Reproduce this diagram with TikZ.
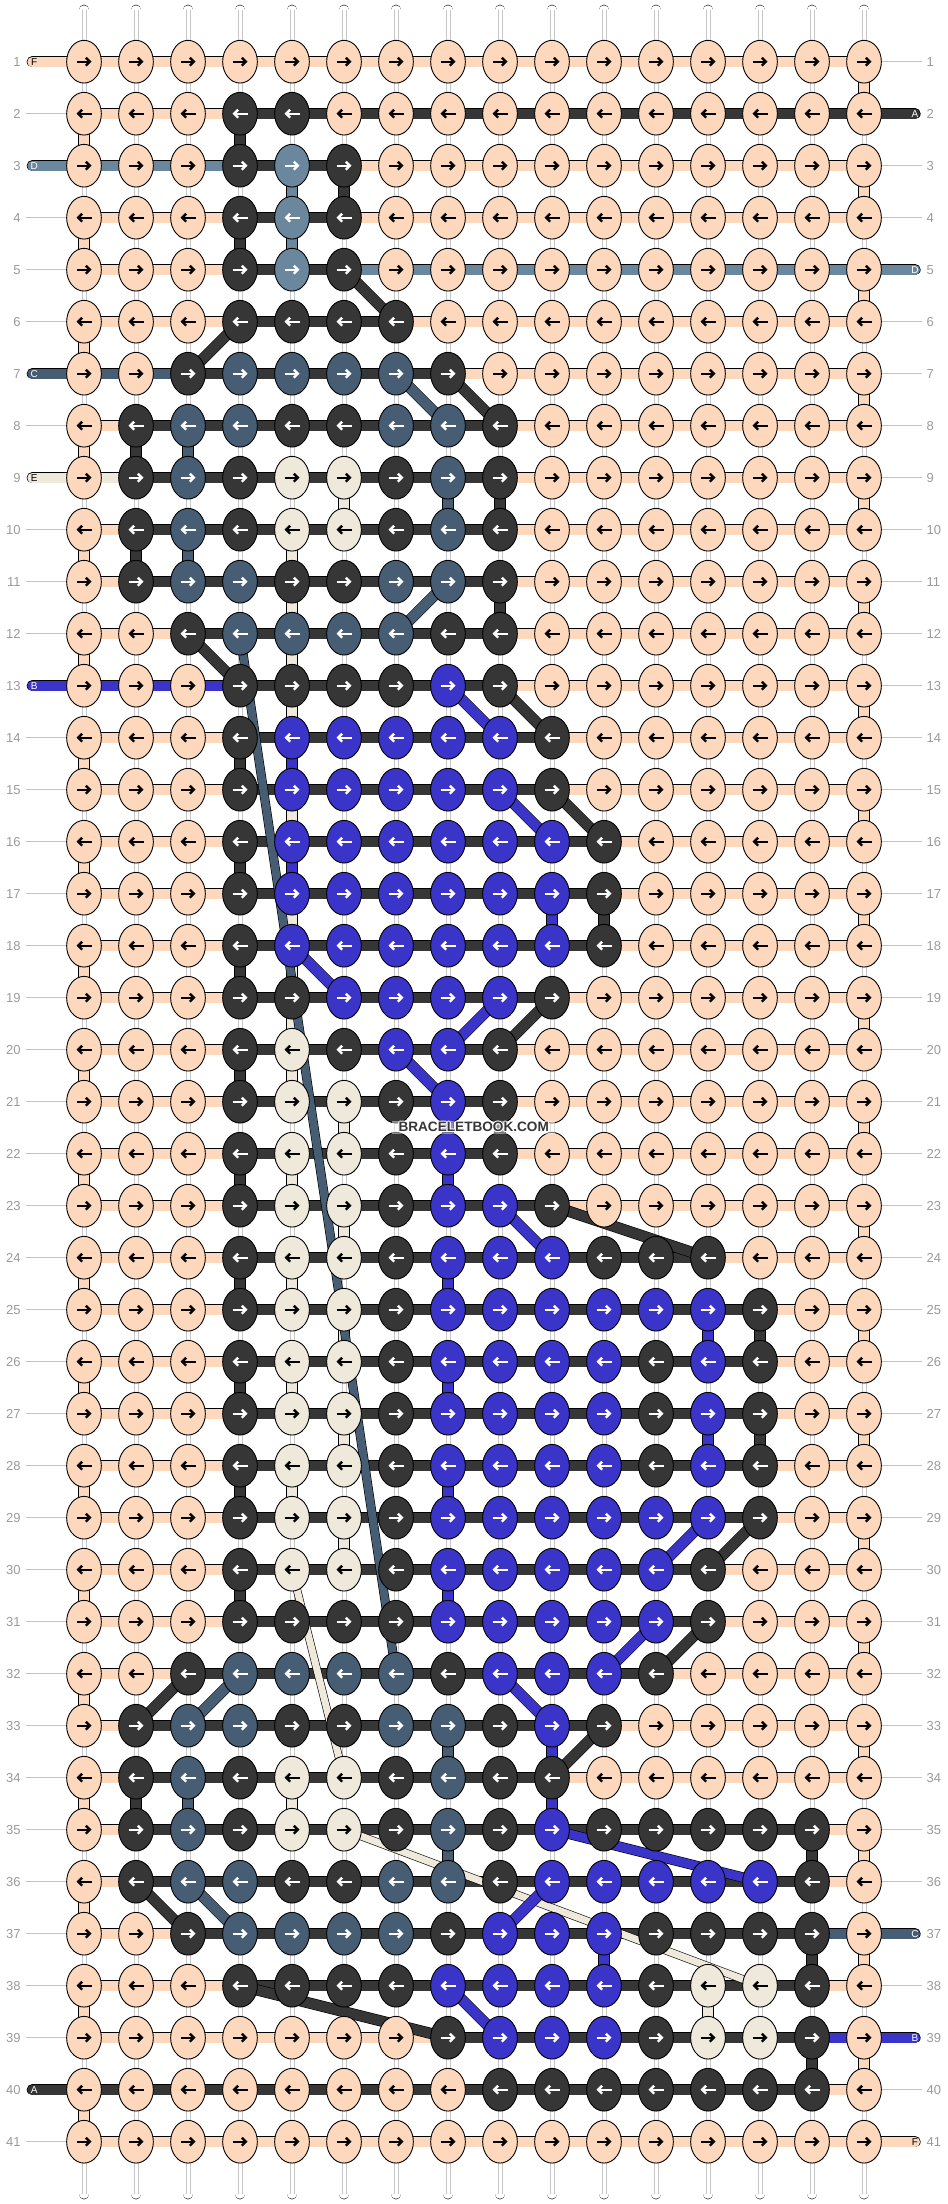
\documentclass[tikz,border=0pt]{standalone}
\usepackage{fontspec}
\setmainfont{Liberation Sans}
\usepackage{xstring}
\usetikzlibrary{shapes.geometric,arrows.meta}

\definecolor{colA}{HTML}{363636}
\definecolor{colB}{HTML}{3A34C8}
\definecolor{colC}{HTML}{465D73}
\definecolor{colD}{HTML}{6B879E}
\definecolor{colE}{HTML}{EFE9DB}
\definecolor{colF}{HTML}{FDD8BC}
\colorlet{txtA}{white}
\colorlet{txtB}{white}
\colorlet{txtC}{white}
\colorlet{txtD}{white}
\colorlet{txtE}{black}
\colorlet{txtF}{black}
\definecolor{rownum}{HTML}{9A9A9A}
\definecolor{rowline}{HTML}{C4C4C4}

\pgfdeclarelayer{strings}
\pgfdeclarelayer{threads}
\pgfdeclarelayer{cross}
\pgfdeclarelayer{top}
\pgfsetlayers{strings,threads,cross,main,top}

\tikzset{
  knot/.style={ellipse, draw=black, line width=0.9pt, minimum width=34.7pt, minimum height=42.7pt, inner sep=0pt},
  thread/.style={draw=black, line width=0.6pt, double=#1, double distance=10.1pt},
  crossing/.style 2 args={draw=black, line width=0.6pt, double=#1, double distance=#2},
  tube/.style={draw=black, line width=0.6pt, double=white, double distance=9.5pt, line cap=round},
  knotarrow/.style={line width=2.4pt, -{Straight Barb[length=4pt, width=8pt]}},
  rowno/.style={text=rownum, font=\fontsize{13}{13}\selectfont, inner sep=0pt},
  endtag/.style={font=\fontsize{10}{10}\selectfont, inner sep=0pt},
  wmtext/.style={font=\bfseries\fontsize{13.6}{13.6}\selectfont, inner sep=0pt}
}

\begin{document}
\begin{tikzpicture}[x=1pt,y=-1pt]
\useasboundingbox (0,0) rectangle (948,2204);

\foreach \r/\ks/\bs/\lt/\rt in {
1/FFFFFFFFFFFFFFFF/FFFFFFFFFFFFFFF/F/N,
2/FFFAAFFFFFFFFFFF/FFFAAAAAAAAAAAA/N/A,
3/FFFADAFFFFFFFFFF/DDDAAFFFFFFFFFF/D/N,
4/FFFADAFFFFFFFFFF/FFFAAFFFFFFFFFF/N/N,
5/FFFADAFFFFFFFFFF/FFFAADDDDDDDDDD/N/D,
6/FFFAAAAFFFFFFFFF/FFFAAAFFFFFFFFF/N/N,
7/FFACCCCAFFFFFFFF/CCAAAAAFFFFFFFF/C/N,
8/FACCAACCAFFFFFFF/FAAAAAAAFFFFFFF/N/N,
9/FACAEEACAFFFFFFF/EAAAAAAAFFFFFFF/E/N,
10/FACAEEACAFFFFFFF/FAAAAAAAFFFFFFF/N/N,
11/FACCAACCAFFFFFFF/FAAAAAAAFFFFFFF/N/N,
12/FFACCCCAAFFFFFFF/FFAAAAAAFFFFFFF/N/N,
13/FFFAAAABAFFFFFFF/BBBAAAAAFFFFFFF/B/N,
14/FFFABBBBBAFFFFFF/FFFAAAAAAFFFFFF/N/N,
15/FFFABBBBBAFFFFFF/FFFAAAAAAFFFFFF/N/N,
16/FFFABBBBBBAFFFFF/FFFAAAAAAAFFFFF/N/N,
17/FFFABBBBBBAFFFFF/FFFAAAAAAAFFFFF/N/N,
18/FFFABBBBBBAFFFFF/FFFAAAAAAAFFFFF/N/N,
19/FFFAABBBBAFFFFFF/FFFAAAAAAFFFFFF/N/N,
20/FFFAEABBAFFFFFFF/FFFAAAAAFFFFFFF/N/N,
21/FFFAEEABAFFFFFFF/FFFAAAAAFFFFFFF/N/N,
22/FFFAEEABAFFFFFFF/FFFAAAAAFFFFFFF/N/N,
23/FFFAEEABBAFFFFFF/FFFAAAAAAFFFFFF/N/N,
24/FFFAEEABBBAAAFFF/FFFAAAAAAAAAFFF/N/N,
25/FFFAEEABBBBBBAFF/FFFAAAAAAAAAAFF/N/N,
26/FFFAEEABBBBABAFF/FFFAAAAAAAAAAFF/N/N,
27/FFFAEEABBBBABAFF/FFFAAAAAAAAAAFF/N/N,
28/FFFAEEABBBBABAFF/FFFAAAAAAAAAAFF/N/N,
29/FFFAEEABBBBBBAFF/FFFAAAAAAAAAAFF/N/N,
30/FFFAEEABBBBBAFFF/FFFAAAAAAAAAFFF/N/N,
31/FFFAAAABBBBBAFFF/FFFAAAAAAAAAFFF/N/N,
32/FFACCCCABBBAFFFF/FFAAAAAAAAAFFFF/N/N,
33/FACCAACCABAFFFFF/FAAAAAAAAAFFFFF/N/N,
34/FACAEEACAAFFFFFF/FAAAAAAAAFFFFFF/N/N,
35/FACAEEACABAAAAAF/FAAAAAAAAAAAAAF/N/N,
36/FACCAACCABBBBBAF/FAAAAAAAAAAAAAF/N/N,
37/FFACCCCABBBAAAAF/FFAAAAAAAAAAAAC/N/C,
38/FFFAAAABBBBAEEAF/FFFAAAAAAAAAAAF/N/N,
39/FFFFFFFABBBAEEAF/FFFFFFFAAAAAAAB/N/B,
40/FFFFFFFFAAAAAAAF/AAAAAAAAAAAAAAF/A/N,
41/FFFFFFFFFFFFFFFF/FFFFFFFFFFFFFFF/N/F}{
  \pgfmathsetmacro\y{9.7+52*\r}
  \pgfmathtruncatemacro\dir{1-2*mod(\r+1,2)}
  \foreach \c in {1,...,16}{
    \StrChar{\ks}{\c}[\kc]
    \node[knot, fill=col\kc] (k-\r-\c) at ({32+52*\c},\y) {};
    \draw[knotarrow, draw=txt\kc] ({32+52*\c-7.5*(\dir)},\y) -- ({32+52*\c+7.5*(\dir)},\y);
  }
  \begin{pgfonlayer}{threads}
    \foreach \c [evaluate=\c as \cn using int(\c+1)] in {1,...,15}{
      \StrChar{\bs}{\c}[\bc]
      \draw[thread=col\bc] (k-\r-\c.center) -- (k-\r-\cn.center);
    }
  \end{pgfonlayer}
  \node[rowno, anchor=east] (nl-\r) at (20.7,\y) {\r};
  \node[rowno, anchor=west] (nr-\r) at (926.5,\y) {\r};
  \if N\lt
    \coordinate (l-\r) at (26,\y);
    \draw[rowline, line width=1pt] (l-\r) -- (k-\r-1.west);
  \else
    \coordinate (l-\r) at (32.35,\y);
    \begin{pgfonlayer}{threads}
      \draw[thread=col\lt, line cap=round] (l-\r) -- (k-\r-1.center);
    \end{pgfonlayer}
    \node[endtag, text=txt\lt] (lt-\r) at (34.2,\y) {\lt};
  \fi
  \if N\rt
    \coordinate (r-\r) at (922.3,\y);
    \draw[rowline, line width=1pt] (k-\r-16.east) -- (r-\r);
  \else
    \coordinate (r-\r) at (915,\y);
    \begin{pgfonlayer}{threads}
      \draw[thread=col\rt, line cap=round] (k-\r-16.center) -- (r-\r);
    \end{pgfonlayer}
    \node[endtag, text=txt\rt] (rt-\r) at (915,\y) {\rt};
  \fi
}

\begin{pgfonlayer}{strings}
  \foreach \c in {1,...,16}{
    \coordinate (t-\c) at ({32+52*\c},10);
    \coordinate (b-\c) at ({32+52*\c},2194);
    \draw[tube] (t-\c) -- (b-\c);
    \draw[gray!45, line width=0.4pt] ([xshift=-2.2pt]t-\c) -- ([xshift=-2.2pt]b-\c);
    \draw[gray!45, line width=0.4pt] ([xshift=2.2pt]t-\c) -- ([xshift=2.2pt]b-\c);
  }
\end{pgfonlayer}

\begin{pgfonlayer}{threads}
  \foreach \r [evaluate=\r as \rn using int(\r+1), evaluate=\r as \c using {int(16-15*mod(\r+1,2))}] in {1,...,40}
    \draw[thread=colF] (k-\r-\c.center) -- (k-\rn-\c.center);
  \foreach \r/\c [evaluate=\r as \rn using int(\r+1)] in {9/6,10/5,11/5,12/5,13/5,14/5,15/5,16/5,17/5,18/5,19/5,20/5,
      21/6,22/5,23/6,24/5,25/6,26/5,27/6,28/5,29/6,34/5,38/13}
    \draw[thread=colE] (k-\r-\c.center) -- (k-\rn-\c.center);
  \foreach \r/\c/\k [evaluate=\r as \rn using int(\r+1)] in {2/4/A,3/6/A,4/4/A,8/2/A,9/9/A,10/2/A,11/9/A,14/4/A,16/4/A,
      17/11/A,18/4/A,20/4/A,21/9/A,22/4/A,24/4/A,25/14/A,26/4/A,27/14/A,28/4/A,30/4/A,34/2/A,35/15/A,37/15/A,39/15/A,
      14/5/B,16/5/B,17/10/B,21/8/B,22/8/B,24/8/B,25/13/B,26/8/B,27/13/B,28/8/B,30/8/B,33/10/B,34/10/B,37/11/B,
      8/3/C,9/8/C,10/3/C,33/8/C,34/3/C,35/8/C,3/5/D,4/5/D}
    \draw[thread=col\k] (k-\r-\c.center) -- (k-\rn-\c.center);
\end{pgfonlayer}

\begin{pgfonlayer}{cross}
  \foreach \ra/\ca/\rb/\cb/\k/\w in {30/5/34/6/E/7,35/6/38/14/E/7,
      7/7/8/8/C/10,11/8/12/7/C/10,12/4/32/7/C/8,32/4/33/3/C/10,36/3/37/4/C/10,
      5/6/6/7/A/10,6/4/7/3/A/10,7/8/8/9/A/10,12/3/13/4/A/10,13/9/14/10/A/10,15/10/16/11/A/10,19/10/20/9/A/10,
      23/10/24/13/A/10,29/14/30/13/A/10,31/13/32/12/A/10,32/3/33/2/A/10,33/11/34/10/A/10,36/2/37/3/A/10,38/4/39/8/A/10,
      13/8/14/9/B/10,15/9/16/10/B/10,18/5/19/6/B/10,19/9/20/8/B/10,20/7/21/8/B/10,23/9/24/10/B/10,29/13/30/12/B/10,
      31/12/32/11/B/10,32/9/33/10/B/10,35/10/36/14/B/9,36/10/37/9/B/10,38/8/39/9/B/10}
    \draw[crossing={col\k}{\w pt}] (k-\ra-\ca.center) -- (k-\rb-\cb.center);
\end{pgfonlayer}

\begin{pgfonlayer}{top}
  \node[fill=white, fill opacity=0.45, minimum width=163pt, minimum height=13.5pt, inner sep=0pt] (wmbox) at (473.5,1127.3) {};
  \foreach \dx/\dy [count=\i] in {1/0,-1/0,0/1,0/-1,0.7/0.7,-0.7/0.7,0.7/-0.7,-0.7/-0.7}
    \node[wmtext, text=white] (wm-\i) at (473.7+\dx,1127.3+\dy) {BRACELETBOOK.COM};
  \node[wmtext, text=colA] (wm) at (473.7,1127.3) {BRACELETBOOK.COM};
\end{pgfonlayer}

\end{tikzpicture}
\end{document}
